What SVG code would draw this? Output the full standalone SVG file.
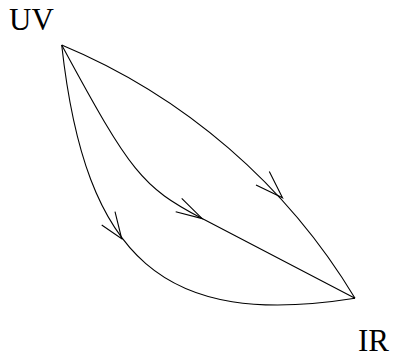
<svg xmlns="http://www.w3.org/2000/svg" width="393" height="353" viewBox="0 0 393 353">
<style>
.edge{fill:none;stroke:#000;stroke-width:1.1}
.arr{fill:none;stroke:#000;stroke-width:1.1;stroke-linejoin:miter}
.lbl{font-family:"Liberation Serif","Times New Roman",serif;font-size:31px;fill:#000}
</style>
<rect width="393" height="353" fill="#fff"/>
<g id="node-UV"><text class="lbl" x="9" y="30">UV</text></g>
<g id="node-IR"><text class="lbl" x="358" y="351">IR</text></g>
<g id="connectors">
<path class="edge" d="M61.7,45 C183.8,95.8 286.9,184.9 355,298.3"/>
<polyline class="arr" points="269.3,171.5 282.5,197.8 256,185"/>
<path class="edge" d="M61.7,45 C130.9,173.1 142.1,186.9 201.7,218.3 L355,298.3"/>
<polyline class="arr" points="181.7,198.3 202.2,218.6 175.7,211.7"/>
<path class="edge" d="M61.7,45 C85.4,260 164.5,328.5 355,298.3"/>
<polyline class="arr" points="115,211.7 121.7,238.8 101.7,225"/>
</g>
</svg>
